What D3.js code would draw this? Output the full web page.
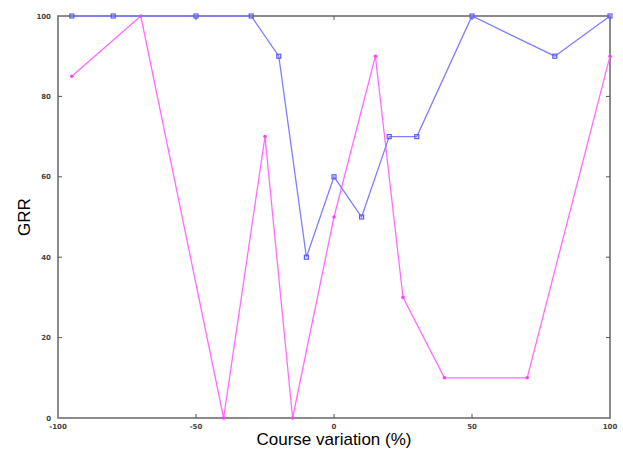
<!DOCTYPE html>
<html>
<head>
<meta charset="utf-8">
<script src="https://cdn.jsdelivr.net/npm/d3@7"></script>
<style>
  body { margin: 0; background: #fff; }
  svg { display: block; font-family: "DejaVu Sans", sans-serif; }
</style>
</head>
<body>
<svg width="623" height="451"></svg>
<script>
// data
const blueX = [-95, -80, -50, -30, -20, -10, 0, 10, 20, 30, 50, 80, 100];
const blueY = [100, 100, 100, 100, 90, 40, 60, 50, 70, 70, 100, 90, 100];
const pinkX = [-95, -70, -40, -25, -15, 0, 15, 25, 40, 70, 100];
const pinkY = [85, 100, 0, 70, 0, 50, 90, 30, 10, 10, 90];
const xTicks = [-100, -50, 0, 50, 100];
const yTicks = [0, 20, 40, 60, 80, 100];

const svg = d3.select("svg");

const x = d3.scaleLinear().domain([-100, 100]).range([58, 610]);
const y = d3.scaleLinear().domain([0, 100]).range([418, 16]);

// frame
svg.append("rect")
    .attr("x", x(-100)).attr("y", y(100))
    .attr("width", x(100) - x(-100)).attr("height", y(0) - y(100))
    .attr("fill", "none")
    .attr("stroke", "#6f6f6f")
    .attr("stroke-width", 1.6);

// inward tick marks
const tickG = svg.append("g").attr("stroke", "#555").attr("stroke-width", 1);
xTicks.slice(1, -1).forEach(t => {
  tickG.append("line").attr("x1", x(t)).attr("x2", x(t)).attr("y1", y(0)).attr("y2", y(0) - 4);
  tickG.append("line").attr("x1", x(t)).attr("x2", x(t)).attr("y1", y(100)).attr("y2", y(100) + 4);
});
yTicks.slice(1, -1).forEach(t => {
  tickG.append("line").attr("x1", x(-100)).attr("x2", x(-100) + 4).attr("y1", y(t)).attr("y2", y(t));
  tickG.append("line").attr("x1", x(100)).attr("x2", x(100) - 4).attr("y1", y(t)).attr("y2", y(t));
});

// tick labels
svg.append("g").selectAll("text")
    .data(xTicks).join("text")
    .attr("x", d => x(d)).attr("y", 429)
    .attr("text-anchor", "middle")
    .attr("font-size", 7).attr("font-weight", "bold").attr("fill", "#444")
    .text(d => d);

svg.append("g").selectAll("text")
    .data(yTicks).join("text")
    .attr("x", 51).attr("y", d => y(d) + 2.5)
    .attr("text-anchor", "end")
    .attr("font-size", 7).attr("font-weight", "bold").attr("fill", "#444")
    .text(d => d);

// axis titles
svg.append("text")
    .attr("x", 334).attr("y", 445)
    .attr("text-anchor", "middle")
    .attr("font-size", 17)
    .attr("font-family", "Liberation Sans, Arial, sans-serif")
    .text("Course variation (%)");

svg.append("text")
    .attr("transform", "translate(30,217) rotate(-90)")
    .attr("text-anchor", "middle")
    .attr("font-size", 17)
    .attr("font-family", "Liberation Sans, Arial, sans-serif")
    .text("GRR");

const line = d3.line().x(d => x(d[0])).y(d => y(d[1]));

const pink = pinkX.map((v, i) => [v, pinkY[i]]);
const blue = blueX.map((v, i) => [v, blueY[i]]);

svg.append("path").datum(pink)
    .attr("d", line).attr("fill", "none")
    .attr("stroke", "#ff6cff").attr("stroke-width", 1.3);

svg.append("g").selectAll("circle")
    .data(pink).join("circle")
    .attr("cx", d => x(d[0])).attr("cy", d => y(d[1]))
    .attr("r", 1.8).attr("fill", "#ff40ff");

svg.append("path").datum(blue)
    .attr("d", line).attr("fill", "none")
    .attr("stroke", "#7f7fff").attr("stroke-width", 1.3);

svg.append("g").selectAll("rect")
    .data(blue).join("rect")
    .attr("x", d => x(d[0]) - 2).attr("y", d => y(d[1]) - 2)
    .attr("width", 4).attr("height", 4)
    .attr("fill", "none").attr("stroke", "#5a5aff").attr("stroke-width", 1.2);
</script>
</body>
</html>
